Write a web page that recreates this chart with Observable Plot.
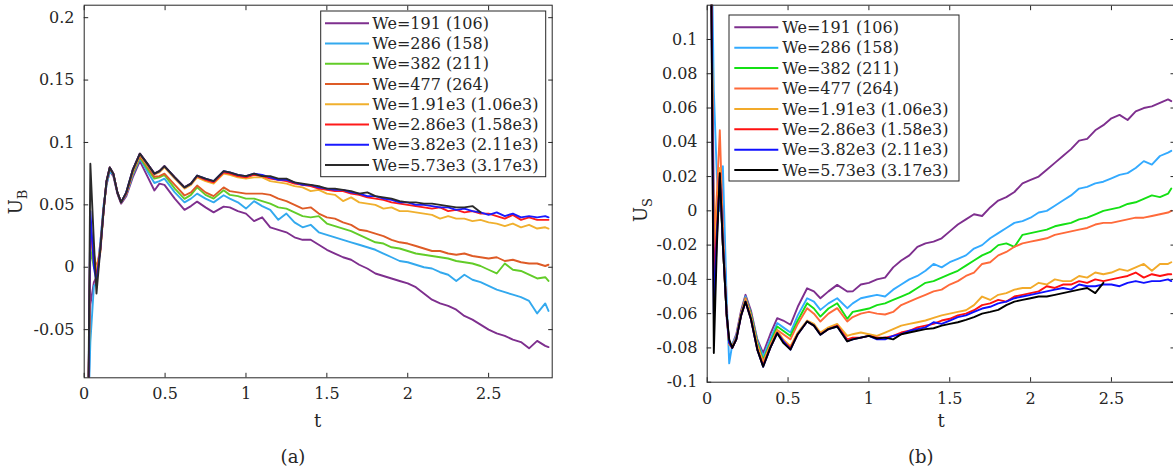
<!DOCTYPE html>
<html><head><meta charset="utf-8">
<script src="https://cdn.jsdelivr.net/npm/d3@7"></script>
<script src="https://cdn.jsdelivr.net/npm/@observablehq/plot@0.6"></script>
<style>
html,body{margin:0;padding:0;background:#fff;overflow:hidden;width:1173px;height:473px}
#wrap{position:relative;width:1173px;height:473px;overflow:hidden;background:#fff}
#wrap svg{position:absolute;top:0}
</style></head><body><div id="wrap"></div>
<script>
// ---------- data ----------
const seriesLabels = ["We=191 (106)","We=286 (158)","We=382 (211)","We=477 (264)","We=1.91e3 (1.06e3)","We=2.86e3 (1.58e3)","We=3.82e3 (2.11e3)","We=5.73e3 (3.17e3)"];
const colorsB = ["#7E2F8E","#33A9EE","#62CC28","#DE5B26","#F0B02E","#FF1A1A","#1A1AFF","#2A2A2A"];
const colorsS = ["#7E2F8E","#33AAFF","#14E014","#FF6A3A","#F2AA2A","#FF1010","#1010FF","#000000"];

const xTicks = [0,0.5,1,1.5,2,2.5];
const xTickLabels = ["0","0.5","1","1.5","2","2.5"];
const yTicksB = [-0.05,0,0.05,0.1,0.15,0.2];
const yTickLabelsB = ["-0.05","0","0.05","0.1","0.15","0.2"];
const yTicksS = [-0.1,-0.08,-0.06,-0.04,-0.02,0,0.02,0.04,0.06,0.08,0.1];
const yTickLabelsS = ["-0.1","-0.08","-0.06","-0.04","-0.02","0","0.02","0.04","0.06","0.08","0.1"];

const tB = [0.025,0.038,0.06,0.076,0.1,0.12,0.138,0.158,0.18,0.205,0.228,0.26,0.3,0.344,0.39,0.434,0.465,0.496,0.56,0.62,0.66,0.698,0.75,0.8,0.862,0.9,0.95,1.0,1.05,
 1.1,1.15,1.2,1.25,1.3,1.35,1.4,1.45,1.5,1.55,1.6,1.65,1.7,1.75,1.8,1.85,1.9,1.95,2.0,2.05,2.1,2.15,2.2,2.25,2.3,2.35,2.4,2.45,2.5,2.55,2.6,2.65,2.7,2.75,2.8,2.85,2.87];
const tS = [0.02,0.041,0.06,0.078,0.097,0.12,0.136,0.155,0.18,0.21,0.237,0.27,0.31,0.346,0.39,0.433,0.47,0.515,0.56,0.618,0.66,0.7,0.75,0.804,0.866,0.9,0.95,1.0,1.05,
 1.1,1.15,1.2,1.25,1.3,1.35,1.4,1.45,1.5,1.55,1.6,1.65,1.7,1.75,1.8,1.85,1.9,1.95,2.0,2.05,2.1,2.15,2.2,2.25,2.3,2.35,2.4,2.45,2.5,2.55,2.6,2.65,2.7,2.75,2.8,2.85,2.87];

// panel (a): U_B
const uB191 = [-0.12,-0.03,-0.012,-0.008,0.02,0.048,0.066,0.077,0.073,0.059, 0.051,0.057,0.072,0.085,0.073,0.0615,0.067,0.066,0.055,0.046, 0.049,0.0526,0.048,0.044,0.0486,0.048,0.045,0.043,0.037,
 0.040,0.032,0.030,0.028,0.024,0.022,0.022,0.018,0.014,0.011, 0.008,0.006,0.002,-0.001,-0.005,-0.007,-0.009,-0.011,-0.013,-0.016, -0.021,-0.026,-0.029,-0.031,-0.034,-0.039,-0.042,-0.046,-0.050,-0.053, -0.055,-0.058,-0.060,-0.065,-0.059,-0.063, -0.064];
const uB286 = [-0.12,-0.06,-0.015,-0.013,0.02,0.05,0.066,0.077,0.074,0.060, 0.052,0.058,0.074,0.087,0.077,0.0675,0.069,0.071,0.060,0.052, 0.055,0.059,0.055,0.052,0.0577,0.055,0.052,0.047,0.053,
 0.049,0.046,0.038,0.043,0.036,0.032,0.034,0.028,0.026,0.024, 0.022,0.020,0.018,0.016,0.014,0.011,0.008,0.005,0.004,0.002, 0.000,-0.001,-0.004,-0.006,-0.011,-0.006,-0.010,-0.012,-0.015,-0.018, -0.020,-0.022,-0.024,-0.027,-0.037,-0.029, -0.035];
const uB382 = [-0.12,0.015,0.0,-0.004,0.015,0.046,0.068,0.079,0.075,0.060, 0.052,0.059,0.075,0.088,0.079,0.071,0.072,0.074,0.063,0.0548, 0.058,0.064,0.058,0.055,0.0617,0.058,0.057,0.055,0.055,
 0.053,0.051,0.048,0.047,0.044,0.041,0.040,0.041,0.035,0.033, 0.031,0.029,0.026,0.023,0.020,0.019,0.016,0.015,0.013,0.011, 0.010,0.009,0.008,0.007,0.005,0.004,0.003,0.001,-0.002,-0.005, 0.003,-0.002,-0.003,-0.006,-0.009,-0.008, -0.011];
const uB477 = [-0.12,0.023,0.01,0.0,0.012,0.045,0.069,0.079,0.075,0.060, 0.052,0.059,0.076,0.089,0.081,0.0725,0.073,0.075,0.066,0.0575, 0.060,0.0655,0.060,0.057,0.064,0.061,0.060,0.059,0.059,
 0.059,0.058,0.055,0.053,0.050,0.047,0.048,0.043,0.040,0.039, 0.036,0.034,0.030,0.029,0.027,0.025,0.022,0.020,0.019,0.017, 0.015,0.013,0.013,0.011,0.010,0.011,0.009,0.008,0.007,0.008, 0.005,0.006,0.004,0.003,0.003,0.001, 0.002];
const uB1910 = [-0.12,0.03,0.005,-0.002,0.015,0.046,0.069,0.080,0.075,0.060, 0.052,0.059,0.077,0.090,0.082,0.0745,0.076,0.080,0.071,0.063, 0.066,0.072,0.069,0.067,0.075,0.074,0.072,0.071,0.072,
 0.072,0.069,0.068,0.067,0.065,0.064,0.061,0.062,0.059,0.058, 0.053,0.056,0.052,0.051,0.050,0.047,0.048,0.045,0.045,0.044, 0.043,0.042,0.039,0.041,0.039,0.039,0.037,0.038,0.036,0.035, 0.033,0.035,0.032,0.034,0.031,0.032, 0.031];
const uB2860 = [-0.12,0.035,0.005,-0.008,0.015,0.046,0.069,0.080,0.075,0.060, 0.052,0.059,0.078,0.091,0.083,0.075,0.077,0.081,0.072,0.064, 0.067,0.073,0.070,0.068,0.076,0.075,0.073,0.072,0.074,
 0.073,0.071,0.070,0.069,0.067,0.066,0.065,0.063,0.062,0.061, 0.061,0.059,0.058,0.056,0.055,0.054,0.052,0.051,0.050,0.049, 0.048,0.047,0.048,0.045,0.046,0.044,0.045,0.043,0.043,0.041, 0.039,0.042,0.038,0.040,0.038,0.038, 0.038];
const uB3820 = [-0.12,0.045,0.0,-0.012,0.015,0.046,0.069,0.080,0.075,0.060, 0.052,0.060,0.078,0.091,0.083,0.075,0.077,0.081,0.072,0.064, 0.067,0.0735,0.071,0.069,0.077,0.076,0.074,0.073,0.075,
 0.074,0.072,0.070,0.070,0.068,0.066,0.066,0.064,0.063,0.062, 0.062,0.060,0.059,0.057,0.057,0.055,0.054,0.052,0.052,0.050, 0.050,0.049,0.048,0.048,0.046,0.047,0.045,0.044,0.042,0.044, 0.041,0.043,0.040,0.041,0.040,0.041, 0.040];
const uB5730 = [-0.12,0.083,0.02,-0.021,0.015,0.046,0.069,0.080,0.075,0.060, 0.052,0.060,0.078,0.091,0.083,0.075,0.077,0.081,0.072,0.064, 0.067,0.0735,0.071,0.069,0.077,0.076,0.074,0.073,0.075,
 0.073,0.073,0.071,0.071,0.068,0.067,0.066,0.065,0.063,0.063, 0.062,0.061,0.059,0.060,0.057,0.056,0.055,0.053,0.052,0.052, 0.051,0.051,0.050,0.049,0.048,0.048,0.049,0.044,null,null, null,null,null,null,null,null, null];

// panel (b): U_S
const uS191 = [0.2,0.0,-0.01,0.018,0.01,-0.062,-0.078,-0.078,-0.072,-0.058, -0.049,-0.058,-0.075,-0.083,-0.072,-0.0626,-0.064,-0.0665,-0.056,-0.0452, -0.047,-0.051,-0.047,-0.0432,-0.0471,-0.047,-0.043,-0.042,-0.040,
 -0.039,-0.033,-0.029,-0.026,-0.021,-0.019,-0.018,-0.016,-0.012,-0.008, -0.005,-0.002,-0.003,0.002,0.006,0.008,0.011,0.016,0.018,0.020, 0.024,0.028,0.032,0.036,0.041,0.042,0.047,0.050,0.054,0.056, 0.053,0.058,0.060,0.061,0.063,0.065, 0.064];
const uS286 = [0.2,0.07,0.02,0.0,0.026,-0.05,-0.089,-0.078,-0.073,-0.060, -0.050,-0.060,-0.076,-0.085,-0.075,-0.0655,-0.068,-0.071,-0.061,-0.051, -0.053,-0.0578,-0.054,-0.051,-0.0568,-0.054,-0.051,-0.050,-0.049,
 -0.050,-0.046,-0.043,-0.040,-0.038,-0.035,-0.031,-0.033,-0.030,-0.028, -0.026,-0.022,-0.020,-0.016,-0.013,-0.010,-0.007,-0.006,-0.004,-0.001, 0.000,0.003,0.006,0.009,0.013,0.014,0.016,0.017,0.019,0.021, 0.022,0.025,0.029,0.027,0.032,0.034, 0.035];
const uS382 = [0.2,-0.03,0.0,0.02,-0.02,-0.06,-0.078,-0.079,-0.074,-0.060, -0.051,-0.060,-0.077,-0.087,-0.077,-0.0675,-0.070,-0.073,-0.064,-0.0539, -0.057,-0.0617,-0.057,-0.0539,-0.063,-0.059,-0.058,-0.057,-0.055,
 -0.054,-0.052,-0.050,-0.048,-0.045,-0.042,-0.041,-0.039,-0.037,-0.035, -0.032,-0.029,-0.026,-0.024,-0.020,-0.019,-0.021,-0.014,-0.013,-0.012, -0.011,-0.009,-0.008,-0.007,-0.005,-0.004,-0.002,0.000,0.001,0.002, 0.004,0.005,0.007,0.009,0.008,0.010, 0.013];
const uS477 = [0.2,-0.022,0.01,0.047,-0.01,-0.06,-0.078,-0.079,-0.074,-0.060, -0.051,-0.061,-0.078,-0.088,-0.078,-0.0695,-0.072,-0.075,-0.066,-0.0568, -0.060,-0.0646,-0.060,-0.0568,-0.0646,-0.062,-0.060,-0.059,-0.060,
 -0.0605,-0.059,-0.055,-0.053,-0.051,-0.049,-0.047,-0.046,-0.043,-0.041, -0.038,-0.036,-0.031,-0.030,-0.026,-0.024,-0.021,-0.019,-0.018,-0.017, -0.016,-0.014,-0.013,-0.012,-0.011,-0.010,-0.008,-0.007,-0.007,-0.006, -0.005,-0.004,-0.004,-0.003,-0.002,-0.001, 0.000];
const uS1910 = [0.2,-0.03,0.0,0.025,-0.02,-0.06,-0.078,-0.080,-0.075,-0.060, -0.052,-0.062,-0.079,-0.089,-0.079,-0.070,-0.075,-0.079,-0.071,-0.064, -0.066,-0.071,-0.068,-0.066,-0.073,-0.072,-0.071,-0.072,-0.073,
 -0.071,-0.069,-0.067,-0.066,-0.065,-0.064,-0.0625,-0.061,-0.060,-0.059, -0.058,-0.055,-0.050,-0.052,-0.049,-0.048,-0.046,-0.045,-0.045,-0.042, -0.043,-0.040,-0.041,-0.041,-0.038,-0.039,-0.036,-0.037,-0.036,-0.034, -0.035,-0.033,-0.031,-0.035,-0.031,-0.031, -0.030];
const uS2860 = [0.2,-0.04,-0.01,0.022,-0.02,-0.06,-0.077,-0.080,-0.075,-0.061, -0.053,-0.063,-0.081,-0.090,-0.080,-0.071,-0.076,-0.080,-0.072,-0.0646, -0.067,-0.072,-0.069,-0.067,-0.075,-0.074,-0.074,-0.073,-0.074,
 -0.074,-0.073,-0.071,-0.070,-0.068,-0.067,-0.066,-0.064,-0.063,-0.061, -0.060,-0.058,-0.055,-0.054,-0.052,-0.053,-0.050,-0.049,-0.048,-0.047, -0.044,-0.045,-0.043,-0.043,-0.041,-0.042,-0.040,-0.041,-0.040,-0.039, -0.038,-0.036,-0.039,-0.037,-0.038,-0.037, -0.037];
const uS3820 = [0.2,-0.06,-0.015,0.02,-0.02,-0.06,-0.077,-0.080,-0.075,-0.061, -0.053,-0.063,-0.081,-0.091,-0.080,-0.0714,-0.076,-0.081,-0.072,-0.0646, -0.067,-0.0723,-0.069,-0.0675,-0.076,-0.075,-0.074,-0.073,-0.075,
 -0.075,-0.073,-0.072,-0.070,-0.069,-0.068,-0.065,-0.066,-0.064,-0.062, -0.061,-0.059,-0.057,-0.056,-0.054,-0.053,-0.051,-0.050,-0.049,-0.048, -0.047,-0.046,-0.045,-0.046,-0.043,-0.044,-0.044,-0.043,-0.043,-0.044, -0.042,-0.041,-0.042,-0.041,-0.041,-0.040, -0.041];
const uS5730 = [0.2,-0.083,-0.02,0.022,-0.02,-0.06,-0.075,-0.080,-0.075,-0.061, -0.053,-0.063,-0.081,-0.091,-0.080,-0.0714,-0.077,-0.081,-0.072,-0.0646, -0.067,-0.0723,-0.069,-0.0675,-0.0762,-0.075,-0.074,-0.073,-0.0745,
 -0.074,-0.075,-0.072,-0.071,-0.070,-0.069,-0.0685,-0.067,-0.066,-0.065, -0.0636,-0.062,-0.060,-0.059,-0.0578,-0.055,-0.053,-0.052,-0.051,-0.050, -0.050,-0.049,-0.048,-0.047,-0.046,-0.045,-0.048,-0.042,null,null, null,null,null,null,null,null, null];

const seriesB = [uB191,uB286,uB382,uB477,uB1910,uB2860,uB3820,uB5730];
const seriesS = [uS191,uS286,uS382,uS477,uS1910,uS2860,uS3820,uS5730];

// ---------- drawing ----------
const ink = "#262626";
const FONT = "DejaVu Serif";

function rows(t, series) {
  const out = [];
  series.forEach((vals, k) => {
    if (vals.length !== t.length) console.error("length mismatch", k, vals.length, t.length);
    vals.forEach((v, i) => { if (v != null) out.push({t: t[i], v, s: seriesLabels[k]}); });
  });
  return out;
}

function panel(o) {
  const xl = new Map(xTicks.map((d, i) => [d, xTickLabels[i]]));
  const yl = new Map(o.yTicks.map((d, i) => [d, o.yTickLabels[i]]));
  const svg = Plot.plot({
    width: o.width, height: 473,
    marginLeft: o.mL, marginRight: o.mR, marginTop: o.mT, marginBottom: o.mB,
    x: {domain: o.xDomain},
    y: {domain: o.yDomain},
    color: {domain: seriesLabels, range: o.colors},
    style: {fontFamily: FONT, fontSize: "16px", color: ink, background: "transparent"},
    marks: [
      Plot.line(rows(o.t, o.series), {x: "t", y: "v", z: "s", stroke: "s", strokeWidth: 1.9, strokeLinejoin: "round", clip: true}),
      Plot.frame({stroke: ink, strokeWidth: 1}),
      Plot.axisX({anchor: "bottom", ticks: xTicks, tickSize: -4.5, tickPadding: 14.5, tickFormat: d => xl.get(d), label: null, stroke: ink, fill: ink}),
      Plot.axisX({anchor: "top", ticks: xTicks, tickSize: -4.5, fill: "none", stroke: ink, label: null}),
      Plot.axisY({anchor: "left", ticks: o.yTicks, tickSize: -4.5, tickPadding: 14.2, tickFormat: d => yl.get(d), label: null, stroke: ink, fill: ink}),
      Plot.axisY({anchor: "right", ticks: o.yTicks, tickSize: -4.5, fill: "none", stroke: ink, label: null})
    ]
  });
  svg.style.left = o.left + "px";
  const s = d3.select(svg);
  // legend
  const L = o.legend;
  const g = s.append("g").attr("font-family", FONT).attr("font-size", 16).attr("fill", ink).attr("text-anchor", "start");
  g.append("rect").attr("x", L.x0).attr("y", L.y0).attr("width", L.x1 - L.x0).attr("height", L.y1 - L.y0)
    .attr("fill", "white").attr("stroke", ink).attr("stroke-width", 1);
  seriesLabels.forEach((lab, i) => {
    const y = L.row0 + i * L.dy;
    g.append("line").attr("x1", L.lx0).attr("x2", L.lx1).attr("y1", y).attr("y2", y)
      .attr("stroke", o.colors[i]).attr("stroke-width", 2);
    g.append("text").attr("x", L.tx).attr("y", y).attr("dy", "0.35em").attr("text-anchor", "start").text(lab);
  });
  // y label with subscript
  const yt = s.append("text").attr("font-family", FONT).attr("font-size", 18).attr("fill", ink)
    .attr("text-anchor", "middle").attr("transform", `translate(${o.ylab.x},${o.ylab.y}) rotate(-90)`);
  yt.append("tspan").text("U");
  yt.append("tspan").attr("dy", 5).attr("font-size", 13).text(o.ylab.sub);
  // x label
  s.append("text").attr("font-family", FONT).attr("font-size", 18).attr("fill", ink)
    .attr("text-anchor", "middle").attr("x", o.xlab.x).attr("y", o.xlab.y).text("t");
  // caption
  s.append("text").attr("font-family", FONT).attr("font-size", 18).attr("fill", ink)
    .attr("text-anchor", "middle").attr("x", o.cap.x).attr("y", o.cap.y).text(o.cap.text);
  document.getElementById("wrap").appendChild(svg);
}

panel({
  left: 0, width: 580, mL: 83.7, mR: 28.3, mT: 4.7, mB: 95.7,
  xDomain: [0, 2.893], yDomain: [-0.0886, 0.21],
  yTicks: yTicksB, yTickLabels: yTickLabelsB,
  t: tB, series: seriesB, colors: colorsB,
  legend: {x0: 320.7, y0: 11, x1: 545.7, y1: 176.7, lx0: 325, lx1: 369, tx: 372.3, row0: 23.3, dy: 20.25},
  ylab: {x: 22, y: 202, sub: "B"},
  xlab: {x: 317.7, y: 427},
  cap: {x: 293, y: 463, text: "(a)"}
});
panel({
  left: 600, width: 576, mL: 106.7, mR: 2, mT: 4.7, mB: 91.3,
  xDomain: [0, 2.89], yDomain: [-0.1, 0.12],
  yTicks: yTicksS, yTickLabels: yTickLabelsS,
  t: tS, series: seriesS, colors: colorsS,
  legend: {x0: 129, y0: 15, x1: 359, y1: 181, lx0: 134.3, lx1: 178.3, tx: 182.3, row0: 27.3, dy: 20.4},
  ylab: {x: 47, y: 210, sub: "S"},
  xlab: {x: 341, y: 427},
  cap: {x: 320.7, y: 463, text: "(b)"}
});
</script></body></html>
